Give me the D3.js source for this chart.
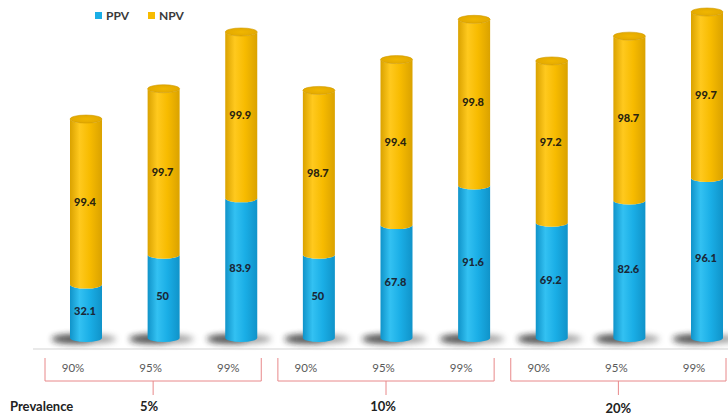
<!DOCTYPE html>
<html>
<head>
<meta charset="utf-8">
<script src="https://cdn.jsdelivr.net/npm/d3@7"></script>
<style>
  html, body { margin: 0; padding: 0; background: #fff; }
  svg { display: block; }
</style>
</head>
<body>
<svg id="chart" width="728" height="415"></svg>
<script>
// Prevalence groups, specificity levels within each group
const prevalence = ["5%", "10%", "20%"];
const specificity = ["90%", "95%", "99%"];
// Predictive values per bar (group-major order)
const ppv = [32.1, 50, 83.9, 50, 67.8, 91.6, 69.2, 82.6, 96.1];
const npv = [99.4, 99.7, 99.9, 98.7, 99.4, 99.8, 97.2, 98.7, 99.7];
const seriesNames = ["PPV", "NPV"];

const colors = {
  PPV: { edge: "#1093c9", mid: "#33c1f2", flat: "#1aaee6" },
  NPV: { edge: "#daa200", mid: "#ffc91e", flat: "#f7bb00", cap: "#e3a900", capIn: "#f0b600" }
};

const svg = d3.select("#chart");
const defs = svg.append("defs");

const bars = d3.range(ppv.length).map(i => ({
  i,
  group: Math.floor(i / specificity.length),
  spec: specificity[i % specificity.length],
  ppv: ppv[i],
  npv: npv[i]
}));

const x = d3.scalePoint().domain(d3.range(bars.length)).range([86, 707]);
const y = d3.scaleLinear().domain([0, 200]).range([338, 5]);

const rx = 16, ry = 4;

// Horizontal shading for the cylinders
function cylGradient(id, c) {
  const g = defs.append("linearGradient").attr("id", id)
    .attr("x1", "0%").attr("x2", "100%").attr("y1", "0%").attr("y2", "0%");
  g.append("stop").attr("offset", "0%").attr("stop-color", c.edge);
  g.append("stop").attr("offset", "30%").attr("stop-color", c.mid);
  g.append("stop").attr("offset", "62%").attr("stop-color", c.flat);
  g.append("stop").attr("offset", "100%").attr("stop-color", c.edge);
}
cylGradient("gPPV", colors.PPV);
cylGradient("gNPV", colors.NPV);

const capGrad = defs.append("radialGradient").attr("id", "gCap");
capGrad.append("stop").attr("offset", "0%").attr("stop-color", colors.NPV.capIn);
capGrad.append("stop").attr("offset", "100%").attr("stop-color", colors.NPV.cap);

const blur = defs.append("filter").attr("id", "soft")
  .attr("x", "-50%").attr("y", "-150%").attr("width", "200%").attr("height", "400%");
blur.append("feGaussianBlur").attr("stdDeviation", 3);

// Floor line
svg.append("line")
  .attr("x1", 33).attr("x2", 728).attr("y1", 349).attr("y2", 349)
  .attr("stroke", "#e2e2e2").attr("stroke-width", 1.5);

// Base shadows: a broad soft pool with a darker core towards the left
const shadows = svg.append("g").selectAll("g").data(bars).join("g");
shadows.append("ellipse")
  .attr("cx", d => x(d.i) - 2)
  .attr("cy", y(0) + 1)
  .attr("rx", 32).attr("ry", 5)
  .attr("fill", "#555").attr("opacity", 0.55)
  .attr("filter", "url(#soft)");
shadows.append("ellipse")
  .attr("cx", d => x(d.i) - 14)
  .attr("cy", y(0) + 1)
  .attr("rx", 20).attr("ry", 3.5)
  .attr("fill", "#222").attr("opacity", 0.7)
  .attr("filter", "url(#soft)");

// Cylinder body between two levels, front arc on top and bottom edges
function bodyPath(cx, yTop, yBot) {
  const l = cx - rx, r = cx + rx;
  return `M${l},${yTop} L${l},${yBot} A${rx},${ry} 0 0 0 ${r},${yBot} L${r},${yTop} A${rx},${ry} 0 0 1 ${l},${yTop} Z`;
}

const barG = svg.append("g").selectAll("g").data(bars).join("g");

barG.append("path")
  .attr("d", d => bodyPath(x(d.i), y(d.ppv), y(0)))
  .attr("fill", "url(#gPPV)");

barG.append("path")
  .attr("d", d => bodyPath(x(d.i), y(d.ppv + d.npv), y(d.ppv)))
  .attr("fill", "url(#gNPV)");

barG.append("ellipse")
  .attr("cx", d => x(d.i))
  .attr("cy", d => y(d.ppv + d.npv))
  .attr("rx", rx).attr("ry", ry)
  .attr("fill", "url(#gCap)")
  .attr("stroke", "#d19c00").attr("stroke-width", 0.6);

// Value labels centred in each segment
const labelFont = "Lato, 'Open Sans', sans-serif";
barG.append("text")
  .attr("x", d => x(d.i) - 1)
  .attr("y", d => (y(0) + y(d.ppv)) / 2 + 4)
  .attr("text-anchor", "middle")
  .attr("font-family", labelFont).attr("font-weight", "900").attr("font-size", 11)
  .attr("fill", "#1a2838")
  .text(d => d.ppv);

barG.append("text")
  .attr("x", d => x(d.i) - 1)
  .attr("y", d => (y(d.ppv) + y(d.ppv + d.npv)) / 2 + 4)
  .attr("text-anchor", "middle")
  .attr("font-family", labelFont).attr("font-weight", "900").attr("font-size", 11)
  .attr("fill", "#2a2410")
  .text(d => d.npv);

// Specificity tick labels
const tickX = d => x(d.i) - 13;
svg.append("g").selectAll("text").data(bars).join("text")
  .attr("x", tickX)
  .attr("y", 372)
  .attr("text-anchor", "middle")
  .attr("font-family", labelFont).attr("font-size", 11.5)
  .attr("fill", "#595959")
  .text(d => d.spec);

// Group brackets
const bracketColor = "#e8888a";
const groups = prevalence.map((p, g) => {
  const members = bars.filter(b => b.group === g);
  const left = tickX(members[0]) - 28;
  const right = Math.min(tickX(members[members.length - 1]) + 33, 726);
  return { p, g, left, right, mid: (left + right) / 2 };
});

const br = svg.append("g").attr("fill", "none").attr("stroke", bracketColor).attr("stroke-width", 1);
br.selectAll("path").data(groups).join("path")
  .attr("d", d => `M${d.left},358 L${d.left},381 L${d.right},381 L${d.right},358 M${d.mid},381 L${d.mid},395`);

// Prevalence labels
svg.append("text")
  .attr("x", 10).attr("y", 411)
  .attr("font-family", labelFont).attr("font-weight", "bold").attr("font-size", 13)
  .attr("fill", "#222")
  .text("Prevalence");

const groupLabelY = [411, 411, 413];
const groupLabelDx = [-4, -3, 0];
svg.append("g").selectAll("text").data(groups).join("text")
  .attr("x", d => d.mid + groupLabelDx[d.g])
  .attr("y", d => groupLabelY[d.g])
  .attr("text-anchor", "middle")
  .attr("font-family", labelFont).attr("font-weight", "bold").attr("font-size", 13)
  .attr("fill", "#222")
  .text(d => d.p);

// Legend
const legend = svg.append("g").selectAll("g").data(seriesNames).join("g")
  .attr("transform", (d, i) => `translate(${95 + i * 53},12)`);
legend.append("rect").attr("width", 7).attr("height", 7)
  .attr("fill", d => colors[d].flat);
legend.append("text")
  .attr("x", 11).attr("y", 7.5)
  .attr("font-family", labelFont).attr("font-weight", "bold").attr("font-size", 12)
  .attr("fill", "#3a3a3a")
  .text(d => d);
</script>
</body>
</html>
